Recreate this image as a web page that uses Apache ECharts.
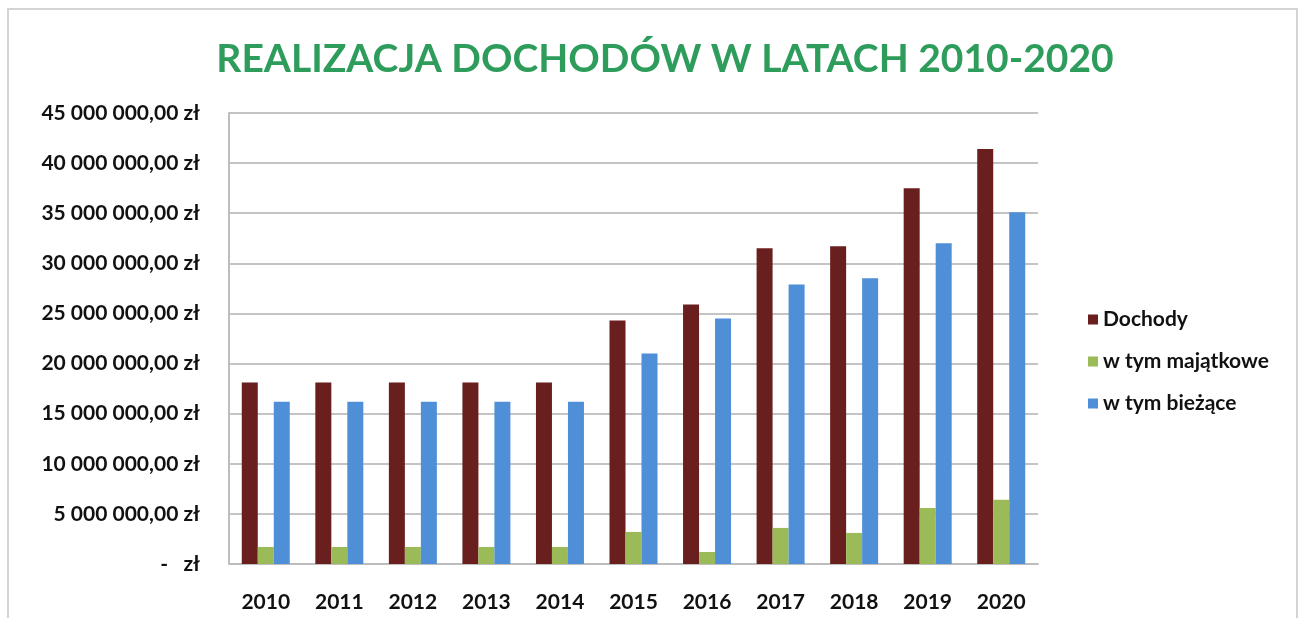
<!DOCTYPE html>
<html><head><meta charset="utf-8">
<script src="https://cdn.jsdelivr.net/npm/echarts@6/dist/echarts.min.js"></script>
<style>html,body{margin:0;padding:0;background:#fff}#c{width:1301px;height:618px}</style>
</head><body><div id="c"></div>
<script>
const years = ['2010','2011','2012','2013','2014','2015','2016','2017','2018','2019','2020'];
const dochody = [18100000,18100000,18100000,18100000,18100000,24300000,25900000,31500000,31700000,37500000,41400000];
const majatkowe = [1700000,1700000,1700000,1700000,1700000,3200000,1200000,3600000,3100000,5600000,6400000];
const biezace = [16200000,16200000,16200000,16200000,16200000,21000000,24500000,27900000,28500000,32000000,35100000];
const seriesNames = ['Dochody','w tym majątkowe','w tym bieżące'];
const titleText = 'REALIZACJA DOCHODÓW W LATACH 2010-2020';

function fmt(v){
  if (v === 0) return '-   zł';
  const s = String(Math.round(v)).replace(/\B(?=(\d{3})+(?!\d))/g,' ');
  return s + ',00 zł';
}
const chart = echarts.init(document.getElementById('c'));
const colors = ['#6a1f1f','#9bbb59','#4f8fd8'];
const dataSets = [dochody, majatkowe, biezace];
chart.setOption({
  animation:false,
  backgroundColor:'#fff',
  graphic:[{type:'rect',shape:{x:8,y:9,width:1289,height:640},style:{fill:'none',stroke:'#d4d4d4',lineWidth:2},silent:true}],
  title:{text:titleText,left:660,top:35,textAlign:'center',textStyle:{fontFamily:'Lato',fontWeight:'bold',fontSize:39,color:'#2e9d5c'}},
  legend:{orient:'vertical',left:1083,top:304,itemWidth:10,itemHeight:10,itemGap:21,icon:'rect',
    textStyle:{fontFamily:'Lato',fontWeight:'bold',fontSize:21,color:'#111'},data:seriesNames},
  grid:{left:229,right:263,top:113,bottom:54,containLabel:false},
  xAxis:{type:'category',data:years,axisTick:{show:false},
    axisLine:{lineStyle:{color:'#bdbdbd',width:2}},
    axisLabel:{margin:28,fontFamily:'Lato',fontWeight:'bold',fontSize:21,color:'#111'}},
  yAxis:{type:'value',min:0,max:45000000,interval:5000000,
    axisLine:{show:true,lineStyle:{color:'#bdbdbd',width:2}},axisTick:{show:false},
    splitLine:{lineStyle:{color:'#c4c4c4',width:2}},
    axisLabel:{margin:29,formatter:fmt,fontFamily:'Lato',fontWeight:'bold',fontSize:21,color:'#111'}},
  series:seriesNames.map((n,i)=>({name:n,type:'bar',data:dataSets[i],barWidth:16,barGap:'0%',itemStyle:{color:colors[i]}}))
});
</script></body></html>
